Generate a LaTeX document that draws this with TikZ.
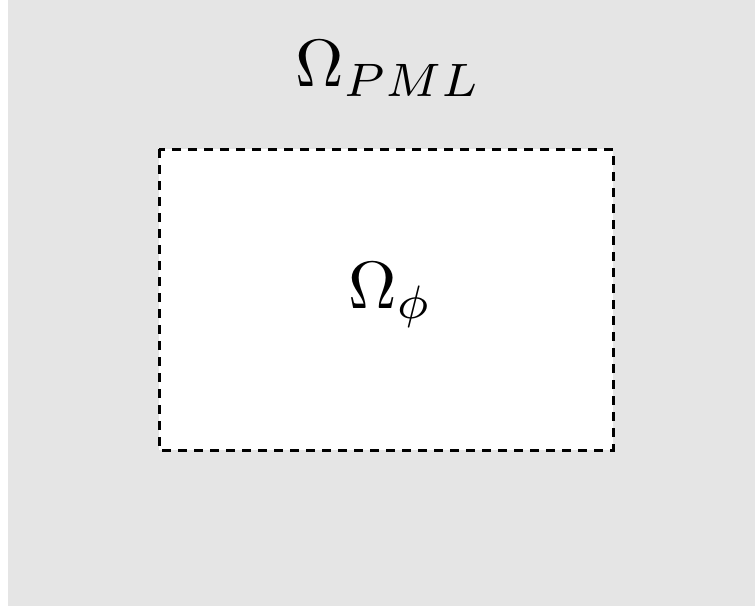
\documentclass[tikz,border=0pt]{standalone}
\begin{document}
\begin{tikzpicture}[x=1pt,y=-1pt,
  lbl/.style={inner sep=0pt,anchor=base west,scale=6.7,transform shape},
  inner/.style={draw=black,fill=white,line width=3pt,dash pattern=on 9pt off 7pt}]
\useasboundingbox (0,0) rectangle (755,606);
\fill[white] (0,0) rectangle (755,606);
\fill[gray!20] (8,0) rectangle (755,606);
\draw[inner] (159,149) rectangle (613,450);
\node[lbl] (pml) at (294,86) {$\Omega_{PML}$};
\node[lbl] (phi) at (347,308) {$\Omega_{\phi}$};
\end{tikzpicture}
\end{document}
